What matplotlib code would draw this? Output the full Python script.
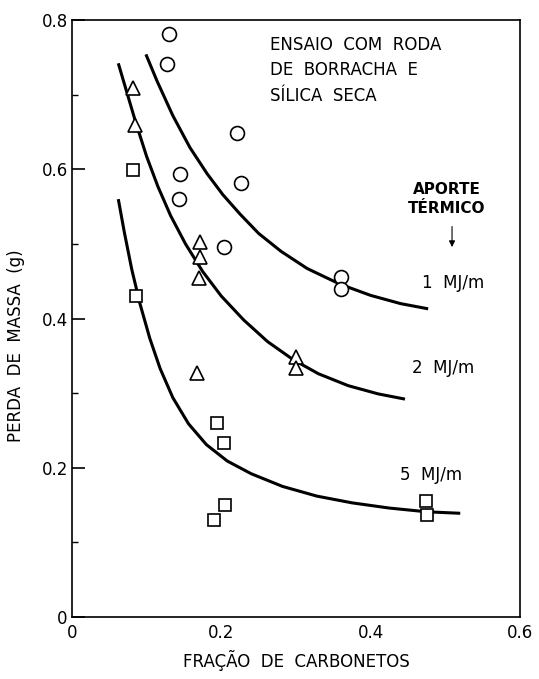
import numpy as np
import matplotlib.pyplot as plt
from matplotlib.ticker import MultipleLocator

# measured points
circ_x = [0.130, 0.127, 0.221, 0.145, 0.143, 0.226, 0.204, 0.360, 0.360]
circ_y = [0.781, 0.741, 0.649, 0.594, 0.560, 0.581, 0.496, 0.455, 0.440]
tri_x = [0.082, 0.084, 0.171, 0.171, 0.170, 0.167, 0.300, 0.300]
tri_y = [0.709, 0.659, 0.503, 0.483, 0.454, 0.327, 0.348, 0.334]
sq_x = [0.082, 0.086, 0.194, 0.204, 0.205, 0.190, 0.474, 0.475]
sq_y = [0.599, 0.430, 0.260, 0.233, 0.150, 0.130, 0.155, 0.137]

# fitted curves for each heat input
c1_x = [0.099, 0.114, 0.135, 0.158, 0.181, 0.202, 0.225, 0.250, 0.280, 0.315, 0.359, 0.400, 0.440, 0.477]
c1_y = [0.754, 0.718, 0.672, 0.629, 0.594, 0.566, 0.540, 0.514, 0.490, 0.467, 0.446, 0.431, 0.420, 0.413]
c2_x = [0.062, 0.072, 0.085, 0.100, 0.115, 0.132, 0.152, 0.175, 0.200, 0.230, 0.262, 0.296, 0.330, 0.370, 0.410, 0.446]
c2_y = [0.742, 0.708, 0.664, 0.617, 0.577, 0.538, 0.500, 0.463, 0.430, 0.398, 0.369, 0.345, 0.326, 0.310, 0.299, 0.292]
c3_x = [0.062, 0.070, 0.080, 0.091, 0.104, 0.118, 0.135, 0.156, 0.180, 0.208, 0.240, 0.282, 0.328, 0.375, 0.425, 0.475, 0.520]
c3_y = [0.560, 0.516, 0.466, 0.420, 0.374, 0.333, 0.294, 0.259, 0.231, 0.209, 0.192, 0.175, 0.162, 0.153, 0.146, 0.141, 0.139]

fig = plt.figure(figsize=(5.39, 6.79), dpi=100)
ax = fig.add_axes([0.1336, 0.0913, 0.8311, 0.8792])

lw = 2.2
for cx, cy in [(c1_x, c1_y), (c2_x, c2_y), (c3_x, c3_y)]:
    ax.plot(cx, cy, color='black', lw=lw, solid_capstyle='butt', solid_joinstyle='round')

ax.plot(circ_x, circ_y, 'o', ms=10, mfc='white', mec='black', mew=1.2, ls='none')
ax.plot(tri_x, tri_y, '^', ms=10, mfc='white', mec='black', mew=1.2, ls='none')
ax.plot(sq_x, sq_y, 's', ms=9, mfc='white', mec='black', mew=1.2, ls='none')

ax.set_xlim(0, 0.6)
ax.set_ylim(0, 0.8)
ax.set_xticks([0, 0.2, 0.4, 0.6])
ax.set_xticklabels(['0', '0.2', '0.4', '0.6'])
ax.set_yticks([0, 0.2, 0.4, 0.6, 0.8])
ax.set_yticklabels(['0', '0.2', '0.4', '0.6', '0.8'])
ax.yaxis.set_minor_locator(MultipleLocator(0.1))
ax.tick_params(axis='x', length=0, labelsize=12, pad=5)
ax.tick_params(axis='y', which='major', direction='in', length=9, width=1.2, labelsize=12, pad=3)
ax.tick_params(axis='y', which='minor', direction='in', length=4, width=1)
for s in ax.spines.values():
    s.set_linewidth(1.2)

ax.set_xlabel('FRAÇÃO  DE  CARBONETOS', fontsize=12, labelpad=6)
ax.set_ylabel('PERDA  DE  MASSA  (g)', fontsize=12)
ax.yaxis.set_label_coords(-0.105, 0.455)

ax.text(0.265, 0.779, 'ENSAIO  COM  RODA\nDE  BORRACHA  E\nSÍLICA  SECA',
        fontsize=12, va='top', ha='left', linespacing=1.55)
ax.text(0.502, 0.560, 'APORTE\nTÉRMICO', fontsize=11, fontweight='bold',
        ha='center', va='center', linespacing=1.35)
ax.annotate('', xy=(0.509, 0.492), xytext=(0.509, 0.527),
            arrowprops=dict(arrowstyle='-|>', color='black', lw=0.8,
                            mutation_scale=9))
ax.text(0.469, 0.4476, '1  MJ/m', fontsize=12, va='center', ha='left')
ax.text(0.455, 0.3337, '2  MJ/m', fontsize=12, va='center', ha='left')
ax.text(0.439, 0.190, '5  MJ/m', fontsize=12, va='center', ha='left')

fig.savefig('out.png', dpi=100)
